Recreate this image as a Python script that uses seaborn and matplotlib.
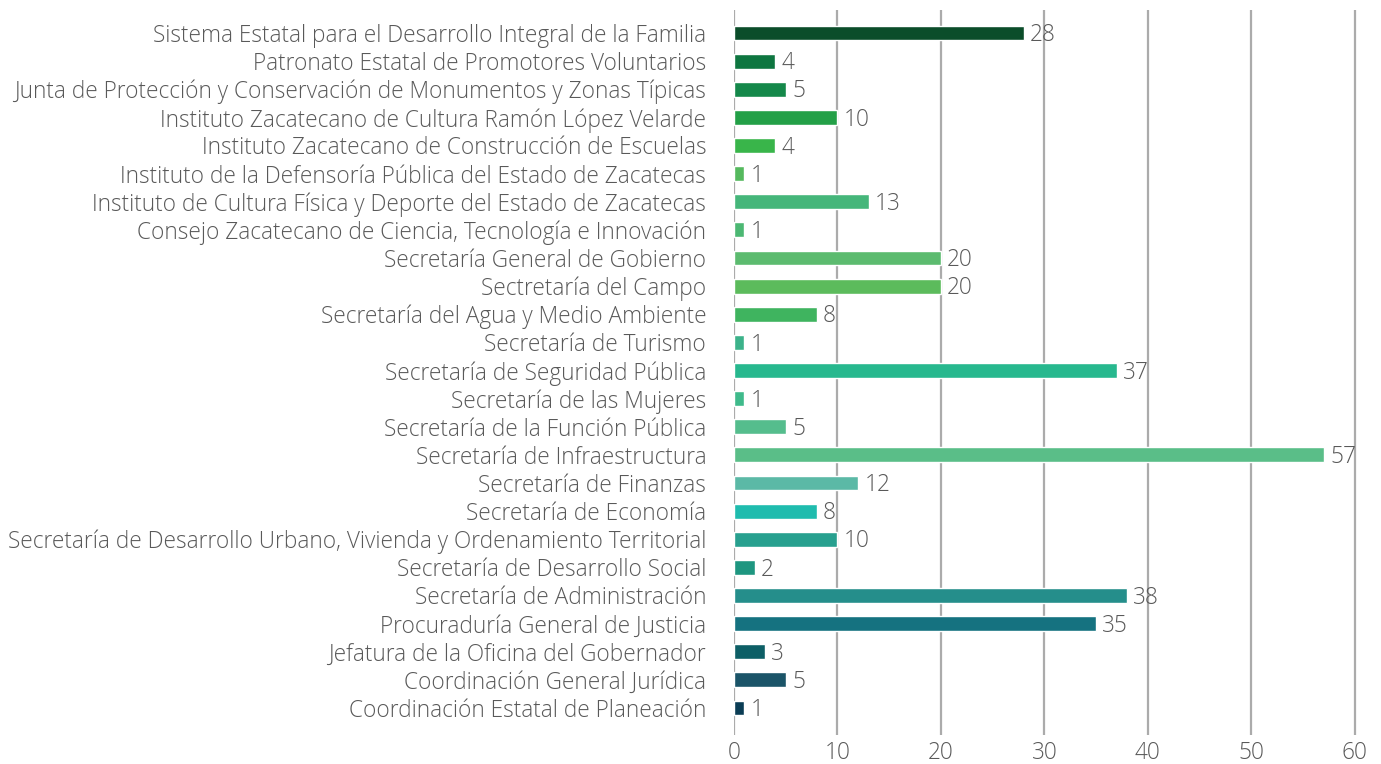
import pandas as pd
import matplotlib.pyplot as plt
import seaborn as sns

# datos
dependencias = [
    "Sistema Estatal para el Desarrollo Integral de la Familia",
    "Patronato Estatal de Promotores Voluntarios",
    "Junta de Protección y Conservación de Monumentos y Zonas Típicas",
    "Instituto Zacatecano de Cultura Ramón López Velarde",
    "Instituto Zacatecano de Construcción de Escuelas",
    "Instituto de la Defensoría Pública del Estado de Zacatecas",
    "Instituto de Cultura Física y Deporte del Estado de Zacatecas",
    "Consejo Zacatecano de Ciencia, Tecnología e Innovación",
    "Secretaría General de Gobierno",
    "Sectretaría del Campo",
    "Secretaría del Agua y Medio Ambiente",
    "Secretaría de Turismo",
    "Secretaría de Seguridad Pública",
    "Secretaría de las Mujeres",
    "Secretaría de la Función Pública",
    "Secretaría de Infraestructura",
    "Secretaría de Finanzas",
    "Secretaría de Economía",
    "Secretaría de Desarrollo Urbano, Vivienda y Ordenamiento Territorial",
    "Secretaría de Desarrollo Social",
    "Secretaría de Administración",
    "Procuraduría General de Justicia",
    "Jefatura de la Oficina del Gobernador",
    "Coordinación General Jurídica",
    "Coordinación Estatal de Planeación",
]
valores = [28, 4, 5, 10, 4, 1, 13, 1, 20, 20, 8, 1, 37, 1, 5, 57, 12, 8, 10, 2, 38, 35, 3, 5, 1]
colores = [
    "#0B4D2A", "#0E7640", "#14884A", "#23A047", "#39B54A", "#55B95E", "#45B67A",
    "#4CB873", "#5CBB6F", "#5CBB5C", "#3FB45F", "#3CB28A", "#27B88E", "#3FBA8B",
    "#55BD8D", "#5ABE88", "#5BB9A6", "#1FBCAE", "#28A08F", "#1E9680", "#258E8B",
    "#157280", "#0D5F66", "#1B5468", "#0B3D55",
]
ticks_x = [0, 10, 20, 30, 40, 50, 60]

df = pd.DataFrame({"dependencia": dependencias, "valor": valores})

sns.set_style("white")
plt.rcParams["font.family"] = ["Open Sans", "DejaVu Sans"]
texto = "#595959"
tam = 16.3

fig = plt.figure(figsize=(13.81, 7.64), dpi=100)
ax = fig.add_axes([0.5315, 0.038, 0.4518, 0.949])

sns.barplot(data=df, x="valor", y="dependencia", hue="dependencia",
            palette=colores, orient="h", width=0.53, legend=False,
            saturation=1, ax=ax, zorder=3)

# etiquetas de valor
for i, v in enumerate(valores):
    ax.text(v + 0.6, i + 0.08, str(v), va="center", ha="left", fontsize=tam,
            color=texto, fontweight="light")

ax.set_xlim(0, 60.3)
ax.set_ylim(24.96, -0.82)
ax.set_xticks(ticks_x)
ax.set_xticklabels([str(t) for t in ticks_x])
ax.xaxis.grid(True, color="#ABABAB", linewidth=1.6, zorder=0)
ax.set_axisbelow(True)
ax.tick_params(axis="both", length=0, labelsize=tam, labelcolor=texto)
ax.tick_params(axis="y", pad=20)
ax.tick_params(axis="x", pad=4)
for lbl in ax.get_xticklabels() + ax.get_yticklabels():
    lbl.set_fontweight("light")
ax.set_xlabel("")
ax.set_ylabel("")
for s in ax.spines.values():
    s.set_visible(False)

fig.savefig("out.png", dpi=100)
